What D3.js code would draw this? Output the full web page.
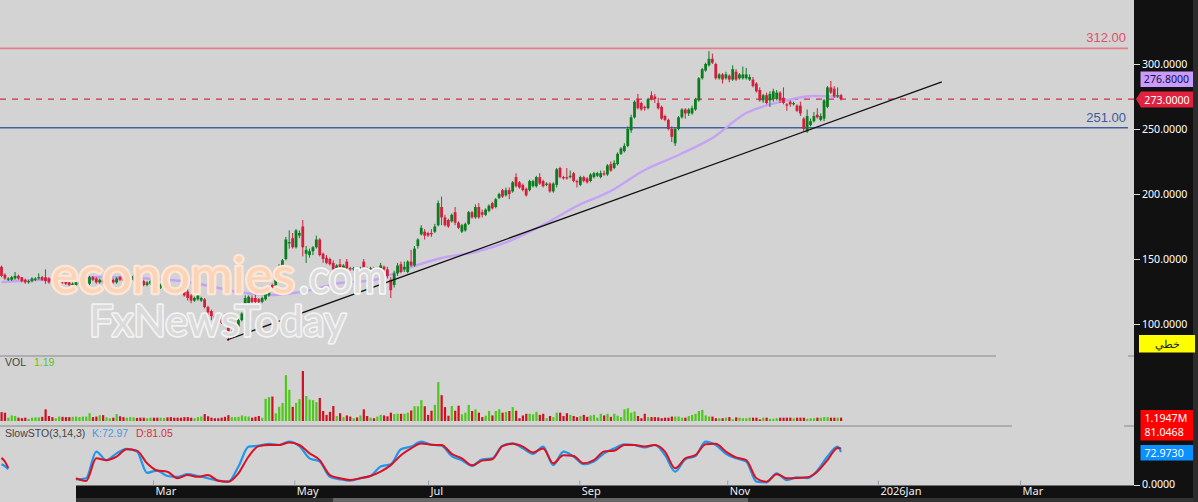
<!DOCTYPE html>
<html>
<head>
<meta charset="utf-8">
<script src="https://cdn.jsdelivr.net/npm/d3@7"></script>
<style>
	html, body { margin: 0; padding: 0; background: #d3d3d3; overflow: hidden; }
	text { font-family: "Noto Sans", sans-serif; }
</style>
</head>
<body>
<svg id="chart" width="1198" height="502"></svg>
<script>
// candles, one value per trading day
const opens = [
	144,138,134,134,135,137,136,134,132,133,
	134,135,136,136,135,134,133,133,135,133,
	132,130,130,131,131,129,131,136,135,132,
	134,131,132,134,132,136,135,132,133,134,
	134,133,133,130,131,132,130,128,129,130,
	129,127,127,126,125,125,122,118,119,118,
	119,113,110,106,105,104,106,97,91,96,
	98,103,112,116,120,120,119,117,119,122,
	130,128,139,144,150,162,166,159,168,175,
	154,153,156,159,165,154,151,150,147,143,
	146,143,148,143,142,143,141,148,143,141,
	143,142,143,144,142,134,130,139,146,142,
	140,148,145,160,169,171,170,170,171,176,
	190,182,180,179,186,178,171,172,177,186,
	182,190,186,184,187,193,190,197,203,199,
	203,202,213,209,207,204,203,206,206,213,
	210,207,208,202,207,220,213,213,213,216,
	210,207,213,212,210,213,214,213,216,215,
	223,220,223,231,233,237,249,259,273,270,
	267,266,276,275,270,267,260,257,250,239,
	250,259,265,262,262,265,272,289,295,299,
	304,300,289,292,289,291,288,294,289,289,
	289,288,288,285,280,272,276,272,273,273,
	278,274,269,271,269,268,268,258,248,253,
	256,261,257,258,267,282,281,275,276
];
const closes = [
	137,135,135,136,137,135,133,132,133,135,
	135,136,134,133,132,133,134,135,132,131,
	130,131,132,132,133,131,136,134,132,134,
	132,133,134,132,135,134,133,134,135,137,
	131,130,130,132,133,129,127,130,131,128,
	127,126,125,124,122,120,118,120,122,120,
	113,109,106,104,103,101,103,90,94,99,
	103,108,120,121,117,117,117,120,123,126,
	127,134,144,149,165,163,159,172,170,159,
	157,156,159,165,153,150,147,146,142,145,
	142,145,143,142,143,141,143,141,141,143,
	141,143,145,142,137,126,139,145,140,144,
	148,145,158,165,174,168,168,169,175,193,
	182,176,175,184,178,174,176,177,186,182,
	190,182,184,188,191,189,196,200,198,203,
	200,209,206,205,203,199,210,210,213,208,
	206,208,202,208,219,213,212,212,214,210,
	209,213,210,209,215,216,216,216,215,222,
	218,224,231,235,237,250,259,271,266,265,
	266,273,273,273,266,258,257,250,244,250,
	259,265,262,265,266,273,289,296,300,304,
	301,289,292,288,292,288,296,288,292,292,
	292,290,283,279,272,276,270,277,279,278,
	272,270,268,269,270,264,262,250,260,256,
	260,259,260,272,282,278,275,276,273
];
const highs = [
	145,139,136,137,140,138,136,135,134,136,
	136,139,137,142,136,135,135,136,136,134,
	133,132,133,134,134,132,137,137,136,135,
	135,134,135,135,136,137,136,135,136,138,
	135,134,134,133,134,133,131,131,132,131,
	130,128,128,127,126,127,123,121,123,121,
	120,114,111,107,106,105,108,101,95,100,
	104,109,122,122,122,123,120,121,124,128,
	131,136,146,150,167,172,170,173,172,180,
	160,158,160,168,166,155,153,151,149,146,
	150,146,150,144,144,144,144,150,144,144,
	144,144,147,145,144,136,141,147,148,148,
	149,157,160,166,176,173,171,173,177,195,
	198,184,181,185,190,179,177,178,187,187,
	192,193,188,189,192,194,197,201,204,205,
	205,210,216,210,208,205,211,211,214,216,
	211,209,209,209,220,221,214,220,218,217,
	211,214,214,213,216,217,217,218,218,223,
	225,226,232,236,239,252,261,272,277,271,
	268,274,279,277,274,268,261,258,252,251,
	260,266,266,266,268,274,290,297,301,310,
	308,301,293,293,294,292,299,296,293,298,
	297,292,290,286,282,277,278,279,281,280,
	279,282,270,272,271,269,271,259,265,258,
	263,266,262,273,283,287,283,282,277
];
const lows = [
	136,134,133,133,134,134,132,131,131,132,
	133,134,133,131,131,132,132,132,131,130,
	129,129,129,130,130,128,130,133,131,131,
	131,130,131,131,131,133,132,131,132,133,
	130,129,129,129,130,128,126,127,128,127,
	126,125,124,123,121,118,116,117,118,117,
	112,107,103,103,102,100,100,87,90,95,
	97,102,111,115,115,116,116,116,118,121,
	126,127,138,143,149,158,158,158,166,152,
	147,151,153,158,152,147,146,145,141,142,
	141,142,142,141,141,140,140,140,140,140,
	140,141,142,141,135,120,128,137,139,140,
	139,144,144,158,168,165,167,167,170,175,
	176,175,174,178,176,173,170,171,176,181,
	181,181,182,183,186,188,189,196,197,198,
	196,201,205,204,202,198,202,205,205,207,
	205,206,201,201,205,212,211,211,212,209,
	205,206,209,208,209,212,213,212,214,214,
	217,219,222,230,232,236,247,258,265,264,
	264,265,272,270,265,257,256,249,240,237,
	249,258,258,260,261,264,271,288,294,298,
	300,288,288,285,288,286,287,287,288,288,
	288,287,282,278,271,270,269,267,271,272,
	270,269,264,267,268,263,260,248,247,252,
	255,258,256,256,266,277,274,274,272
];
// volume in millions
const volumes = [
	3.2,3.0,1.2,2.0,1.8,1.2,1.0,1.2,0.7,1.2,
	1.3,1.3,1.5,4.2,1.8,1.4,1.0,1.6,1.5,1.4,
	1.4,1.5,1.6,1.4,1.6,1.6,2.8,1.4,1.6,2.1,
	2.1,1.3,1.0,1.2,2.5,1.7,1.4,1.2,1.4,1.3,
	1.1,1.2,1.2,1.0,1.2,1.2,1.2,1.2,1.1,1.3,
	1.4,1.2,1.2,1.2,1.4,1.4,1.2,1.0,1.4,1.6,
	2.5,1.7,1.2,1.0,1.0,1.2,1.5,2.1,1.4,1.4,
	1.5,2.0,1.7,1.6,1.2,1.5,1.8,1.2,8.0,8.6,
	8.8,2.8,5.1,6.5,16.5,11.2,5.1,6.5,7.9,18.0,
	9.0,7.7,7.5,6.8,8.3,3.6,2.2,3.3,5.4,1.8,
	2.8,1.4,2.0,1.6,1.0,1.3,2.0,4.2,1.8,1.2,
	1.0,1.6,2.2,2.0,1.7,3.0,2.5,2.6,2.6,2.6,
	3.0,3.8,5.3,5.3,7.5,5.3,2.2,3.7,5.8,14.0,
	9.3,5.0,1.9,5.4,3.7,5.5,2.4,3.0,5.8,3.6,
	4.2,3.0,1.4,1.9,3.6,2.0,3.6,4.2,3.0,3.3,
	3.6,5.0,3.7,1.0,2.0,2.6,2.6,2.4,3.3,2.2,
	2.6,1.0,1.8,1.4,3.0,3.0,1.8,2.8,2.2,1.8,
	1.4,1.8,2.2,1.5,2.0,2.2,1.2,2.6,2.0,2.6,
	1.5,2.6,1.9,1.4,4.2,4.6,3.0,3.4,1.8,1.0,
	2.6,1.4,1.4,1.4,1.3,1.0,1.2,1.2,1.6,1.6,
	1.6,1.2,1.2,1.8,2.2,2.6,3.6,4.0,2.0,1.6,
	1.6,1.0,1.0,1.0,1.2,1.4,0.6,1.3,1.2,1.0,
	1.0,1.2,1.2,1.2,0.6,1.2,1.2,0.8,0.8,1.0,
	1.2,1.2,1.2,1.2,1.0,1.2,1.2,1.2,0.8,1.0,
	1.0,1.2,1.2,1.4,1.4,1.2,1.2,1.2,1.19
];
// moving average, read every ten bars
const maIndex = [0,10,20,30,40,50,60,70,80,90,100,110,120,130,140,150,160,170,180,190,200,210,220,230,240,248];
const maValues = [132.3,133.8,135.4,136.2,135.4,133.8,130,124.6,122.3,125.4,131.5,133.8,143,150.8,155.4,163.8,176.2,190.8,202.3,218.5,230,243,262.3,270.8,275.4,274.6];
// SlowSTO, read every three bars. null is the hole before the axis starts
const stoIndex = [0,1,2,3].concat(d3.range(22, 248, 3), [248]);
const stoK = [
	46,42,35,null,
	12.5,15,74,55,70,80,74,27,32,20,18,24,20,15,9.6,7.4,41,85,87,91,88.5,96,86,59,52,18,12.5,9.6,15,20,41,46,79,85,96,
	89,87,64,55,42,57,59,87,92,81,69,85,44,74,63,46,52,70,81,90,88.5,83,88.5,66,29.5,57,64,96,88.5,69,59,52,7.4,6,26,11,17,15,32,63,85,73
];
const stoD = [
	60,52,38,null,
	15,9,59,55,63,79,76,48,32,29.5,15,22,18,22,9.6,7.4,26,63,86,88.5,88.5,94,88.5,70,55,22,15,11,15,20,29.5,44,66,81,92,
	89,88.5,69,59,43.5,54,57,86,91,85,72,81,48,66,64,48,55,74,76,88.5,88.5,85,88.5,74,37,59,66,90,91,74,61,55,15,7.4,24,15,15.5,17,29.5,55,82,81
];
// trendline ends, in bars and price
const trendIndex = [66.6, 277.8];
const trendPrice = [87.7, 286.2];
// price axis and levels
const priceTicks = [100, 150, 200, 250, 300];
const resistanceLevel = 312;
const supportLevel = 251;
const lastLevel = 273;
// months on the time axis, as bar positions
const monthIndex = [44.75, 86.5, 126, 170.7, 214.4, 258.9, 300.9];
const monthLabels = ["Mar", "May", "Jul", "Sep", "Nov", "2026Jan", "Mar"];

const green = "#0b7d1f", red = "#d2203c";
const volGreen = "#4ec81c", volRed = "#d01020";
const panelColor = "#111111";
const axisFontSize = 10.6;

const svg = d3.select("#chart");

const x = d3.scaleLinear().domain([0, 248]).range([1.5, 841]);
const y = d3.scaleLinear().domain([100, 300]).range([324, 64]);
const yVol = d3.scaleLinear().domain([0, 18]).range([421, 371]);
const ySto = d3.scaleLinear().domain([0, 100]).range([485, 439.8]);

svg.append("rect").attr("width", 1198).attr("height", 502).attr("fill", "#d3d3d3");

// level lines
const levels = svg.append("g");
levels.append("line")
	.attr("x1", 0).attr("x2", 1128)
	.attr("y1", y(resistanceLevel)).attr("y2", y(resistanceLevel))
	.attr("stroke", "#e4808a").attr("stroke-width", 1.6);
levels.append("line")
	.attr("x1", 0).attr("x2", 1128)
	.attr("y1", y(supportLevel)).attr("y2", y(supportLevel))
	.attr("stroke", "#4560a0").attr("stroke-width", 1.4);
levels.append("line")
	.attr("x1", 0).attr("x2", 1134)
	.attr("y1", y(lastLevel)).attr("y2", y(lastLevel))
	.attr("stroke", "#d2304a").attr("stroke-width", 1.1)
	.attr("stroke-dasharray", "6,6");
levels.append("text").attr("x", 1126).attr("y", y(resistanceLevel) - 6)
	.attr("text-anchor", "end").attr("font-size", 13).style("font-family", "Liberation Sans, sans-serif")
	.attr("fill", "#e0506a").text("312.00");
levels.append("text").attr("x", 1126).attr("y", y(supportLevel) - 6)
	.attr("text-anchor", "end").attr("font-size", 13).style("font-family", "Liberation Sans, sans-serif")
	.attr("fill", "#3c5a9c").text("251.00");

// moving average
const maLine = d3.line()
	.x(d => x(d[0]))
	.y(d => y(d[1]))
	.curve(d3.curveMonotoneX);
svg.append("path")
	.datum(maIndex.map((d, i) => [d, maValues[i]]))
	.attr("d", maLine)
	.attr("fill", "none")
	.attr("stroke", "#c4a2f6")
	.attr("stroke-width", 2.4);

// candles
const bars = closes.map((d, i) => ({ i, o: opens[i], c: d, h: highs[i], l: lows[i], v: volumes[i] }));
const candles = svg.append("g");
candles.selectAll("line")
	.data(bars)
	.join("line")
	.attr("x1", d => x(d.i)).attr("x2", d => x(d.i))
	.attr("y1", d => y(d.h)).attr("y2", d => y(d.l))
	.attr("stroke", d => d.c >= d.o ? green : red)
	.attr("stroke-width", 1);
candles.selectAll("rect")
	.data(bars)
	.join("rect")
	.attr("x", d => x(d.i) - 1.4)
	.attr("width", 2.8)
	.attr("y", d => y(Math.max(d.o, d.c)))
	.attr("height", d => Math.max(1, Math.abs(y(d.o) - y(d.c))))
	.attr("fill", d => d.c >= d.o ? green : red);

// trendline
svg.append("line")
	.attr("x1", x(trendIndex[0])).attr("y1", y(trendPrice[0]))
	.attr("x2", x(trendIndex[1])).attr("y2", y(trendPrice[1]))
	.attr("stroke", "#111").attr("stroke-width", 1.3);

// watermark goes over the candles, thin strokes so the lines show between letters
const mark = svg.append("g")
	.attr("font-weight", 400)
	.attr("stroke-linejoin", "round")
	.attr("paint-order", "stroke")
	.style("font-family", "Lato, sans-serif");
mark.append("text")
	.attr("x", 51).attr("y", 293)
	.attr("font-size", 50).attr("textLength", 244).attr("lengthAdjust", "spacingAndGlyphs")
	.style("font-family", "Lato, sans-serif")
	.attr("fill", "#fbd3b6").attr("stroke", "#fde6d6").attr("stroke-width", 4.5)
	.text("economies");
mark.append("text")
	.attr("x", 299).attr("y", 293)
	.attr("font-size", 46).attr("textLength", 88).attr("lengthAdjust", "spacingAndGlyphs")
	.style("font-family", "Lato, sans-serif")
	.attr("fill", "#dcdcdc").attr("stroke", "#f6f6f6").attr("stroke-width", 3.5)
	.text(".com");
mark.append("text")
	.attr("x", 89).attr("y", 336)
	.attr("font-size", 42).attr("textLength", 257).attr("lengthAdjust", "spacingAndGlyphs")
	.style("font-family", "Lato, sans-serif")
	.attr("fill", "#dadada").attr("stroke", "#f2f2f2").attr("stroke-width", 3.5)
	.text("FxNewsToday");

// pane dividers
const dividers = [[356, 0, 996], [356, 1128, 1195], [426, 0, 1012], [426, 1124, 1195]];
svg.append("g").selectAll("line")
	.data(dividers)
	.join("line")
	.attr("x1", d => d[1]).attr("x2", d => d[2])
	.attr("y1", d => d[0]).attr("y2", d => d[0])
	.attr("stroke", "#8a8a8a").attr("stroke-width", 1.2);

// volume
svg.append("g").selectAll("rect")
	.data(bars)
	.join("rect")
	.attr("x", d => x(d.i) - 1)
	.attr("width", 2.2)
	.attr("y", d => yVol(d.v))
	.attr("height", d => yVol(0) - yVol(d.v))
	.attr("fill", d => d.c >= d.o ? volGreen : volRed);

// SlowSTO
const stoLine = d3.line()
	.defined(d => d[1] !== null)
	.x(d => x(d[0]))
	.y(d => ySto(d[1]))
	.curve(d3.curveMonotoneX);
svg.append("path")
	.datum(stoIndex.map((d, i) => [d, stoK[i]]))
	.attr("d", stoLine)
	.attr("fill", "none").attr("stroke", "#1d96ee").attr("stroke-width", 2.2);
svg.append("path")
	.datum(stoIndex.map((d, i) => [d, stoD[i]]))
	.attr("d", stoLine)
	.attr("fill", "none").attr("stroke", "#dc1020").attr("stroke-width", 2);

// pane titles
const titleFont = "Liberation Sans, sans-serif";
const titles = [
	["VOL", 5, 366, "#444"], ["1.19", 34, 366, "#54c820"],
	["SlowSTO(3,14,3)", 5, 437, "#444"], ["K:72.97", 92, 437, "#4a98e0"], ["D:81.05", 136, 437, "#d8303c"]
];
svg.append("g").selectAll("text")
	.data(titles)
	.join("text")
	.attr("x", d => d[1]).attr("y", d => d[2])
	.attr("fill", d => d[3])
	.attr("font-size", 10.5)
	.style("font-family", titleFont)
	.text(d => d[0]);

// time axis
svg.append("rect").attr("x", 76).attr("y", 485.5).attr("width", 1058).attr("height", 12.5).attr("fill", panelColor);
svg.append("rect").attr("x", 76).attr("y", 498).attr("width", 1122).attr("height", 4).attr("fill", "#333");
svg.append("rect").attr("x", 333).attr("y", 498).attr("width", 415).attr("height", 4).attr("fill", "#666");
const monthAxis = d3.axisTop(x)
	.tickValues(monthIndex)
	.tickSize(5)
	.tickFormat((d, i) => monthLabels[i]);
const timeG = svg.append("g").attr("transform", "translate(0,485.5)").call(monthAxis);
timeG.select(".domain").remove();
timeG.selectAll(".tick line").attr("stroke", "#8fa0b0");
timeG.selectAll(".tick text")
	.attr("y", 2).attr("x", 2).attr("dy", "0.71em")
	.attr("text-anchor", "start")
	.attr("fill", "#eee").attr("font-size", 11);

// right panel
svg.append("rect").attr("x", 1134).attr("y", 0).attr("width", 59).attr("height", 498).attr("fill", panelColor);
svg.append("rect").attr("x", 1193).attr("y", 0).attr("width", 5).attr("height", 502).attr("fill", "#2c2c2c");

const priceAxis = d3.axisRight(y)
	.tickValues(priceTicks)
	.tickSize(6)
	.tickFormat(d3.format(".4f"));
const priceG = svg.append("g").attr("transform", "translate(1134,0)").call(priceAxis);
priceG.select(".domain").remove();
priceG.selectAll(".tick line").attr("stroke", "#ddd");
priceG.selectAll(".tick text").attr("x", 8).attr("fill", "#fff").attr("font-size", axisFontSize);

const stoAxis = d3.axisRight(ySto)
	.tickValues([0])
	.tickSize(6)
	.tickFormat(d3.format(".4f"));
const stoG = svg.append("g").attr("transform", "translate(1134,0)").call(stoAxis);
stoG.select(".domain").remove();
stoG.selectAll(".tick line").attr("stroke", "#ddd");
stoG.selectAll(".tick text").attr("x", 8).attr("y", -1).attr("fill", "#fff").attr("font-size", axisFontSize);

// value tags on the right
svg.append("rect").attr("x", 1140.5).attr("y", 71.5).attr("width", 52.5).attr("height", 15.5).attr("fill", "#c89cff");
svg.append("text").attr("x", 1166.5).attr("y", 83).attr("text-anchor", "middle")
	.attr("font-size", axisFontSize).attr("fill", "#1a1040").text("276.8000");

svg.append("path")
	.attr("d", `M1136,${y(lastLevel)}L1141,91.5H1193V107.5H1141Z`)
	.attr("fill", "#e0223e");
svg.append("text").attr("x", 1167).attr("y", 103.5).attr("text-anchor", "middle")
	.attr("font-size", axisFontSize).attr("fill", "#fff").text("273.0000");

svg.append("rect").attr("x", 1139).attr("y", 335).attr("width", 56).attr("height", 17.5).attr("fill", "#ffff00");
svg.append("text").attr("x", 1167).attr("y", 347.5).attr("text-anchor", "middle")
	.attr("font-size", 10.5).attr("fill", "#222").text("خطي");

svg.append("rect").attr("x", 1140.5).attr("y", 410).attr("width", 52.5).attr("height", 30.5).attr("fill", "#ff0000");
svg.append("text").attr("x", 1144.5).attr("y", 422).attr("font-size", axisFontSize).attr("fill", "#fff").text("1.1947M");
svg.append("text").attr("x", 1144.5).attr("y", 436).attr("font-size", axisFontSize).attr("fill", "#fff").text("81.0468");

svg.append("rect").attr("x", 1140.5).attr("y", 445).attr("width", 52.5).attr("height", 15.5).attr("fill", "#0a90ff");
svg.append("text").attr("x", 1144.5).attr("y", 457).attr("font-size", axisFontSize).attr("fill", "#fff").text("72.9730");
</script>
</body>
</html>
